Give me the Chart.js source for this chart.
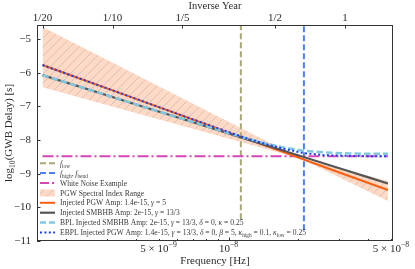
<!DOCTYPE html>
<html><head><meta charset="utf-8">
<script src="https://cdn.jsdelivr.net/npm/chart.js@4"></script>
<style>html,body{margin:0;padding:0;background:#fff;}#wrap{width:415px;height:269px;position:relative;}</style>
</head><body><div id="wrap"><canvas id="c" width="415" height="269"></canvas></div>
<script>
// ---- data ----
const freqs = [1.584e-9, 2.5e-9, 4e-9, 6.3e-9, 1e-8, 1.14e-8, 1.4e-8, 1.7e-8, 2.12e-8, 2.6e-8, 3.3e-8, 4e-8, 4.85e-8];
const pgwDelay = [-5.77, -6.265, -6.775, -7.268, -7.77, -7.913, -8.135, -8.345, -8.585, -8.808, -9.068, -9.275, -9.485];
const smbhbDelay = [-6.07, -6.499, -6.941, -7.368, -7.804, -7.927, -8.12, -8.302, -8.51, -8.703, -8.928, -9.108, -9.29];
const bplSmbhbDelay = [-6.07, -6.499, -6.941, -7.366, -7.79, -7.905, -8.08, -8.21, -8.32, -8.37, -8.40, -8.41, -8.41];
const ebplPgwDelay = [-5.77, -6.265, -6.775, -7.268, -7.76, -7.90, -8.09, -8.25, -8.39, -8.45, -8.47, -8.48, -8.48];
const whiteFreqs = [1.584e-9, 4.85e-8];
const whiteDelay = [-8.48, -8.48];
const bandFreqs = [1.584e-9, 2.04e-8, 4.85e-8];
const bandUpper = [-4.64, -8.55, -9.22];
const bandLower = [-6.43, -8.55, -9.81];
const fLow = 1.13e-8, fLowSpan = [-10.35, -4.58];
const fHigh = 2.11e-8, fHighSpan = [-10.68, -4.58];
const xRange = [1.5e-9, 5.1e-8];
const yRange = [-11, -4.58];
const yTicks = [-11, -10, -9, -8, -7, -6, -5];
const topTickFreqs = [1.5844e-9, 3.1688e-9, 6.3376e-9, 1.5844e-8, 3.1688e-8];
const topTickLabels = ['1/20', '1/10', '1/5', '1/2', '1'];
const bottomMinor = [2e-9,3e-9,4e-9,5e-9,6e-9,7e-9,8e-9,9e-9,2e-8,3e-8,4e-8,5e-8];
const bottomMajor = [1e-8];
const bottomLabelFreqs = [5e-9, 1e-8, 5e-8];
const bottomLabels = ['5 × 10^{−9}', '10^{−8}', '5 × 10^{−8}'];
const legendLabels = [
  '|f|_{low}',
  '|f|_{high}, |f|_{bend}',
  'White Noise Example',
  'PGW Spectral Index Range',
  'Injected PGW Amp: 1.4e-15, |γ| = 5',
  'Injected SMBHB Amp: 2e-15, |γ| = 13/3',
  'BPL Injected SMBHB Amp: 2e-15, |γ| = 13/3, |δ| = 0, |κ| = 0.25',
  'EBPL Injected PGW Amp: 1.4e-15, |γ| = 13/3, |δ| = 0, |β| = 5, |κ|_{high} = 0.1, |κ|_{low} = 0.25'
];

// ---- styles ----
const C = {olive:'#aba877', blue:'#4d80f4', magenta:'#d546b6', orange:'#ff5e0e', gray:'#555555', light:'#82c7e0', dot:'#1b3ff2', text:'#2a2a2a'};
const FONT = '"Liberation Serif", "DejaVu Serif", serif';
const canvas = document.getElementById('c');
const ctx0 = canvas.getContext('2d');
function makeHatch(){
  const s = 9, c = document.createElement('canvas'); c.width = c.height = s;
  const g = c.getContext('2d');
  g.fillStyle = '#fedac6'; g.fillRect(0,0,s,s);
  g.strokeStyle = 'rgba(175,160,155,0.55)'; g.lineWidth = 0.8;
  g.beginPath();
  g.moveTo(0,s); g.lineTo(s,0);
  g.moveTo(-2,2); g.lineTo(2,-2);
  g.moveTo(s-2,s+2); g.lineTo(s+2,s-2);
  g.stroke();
  return ctx0.createPattern(c,'repeat');
}
const hatch = makeHatch();
const pts = (xs, ys) => xs.map((x,i)=>({x:x, y:ys[i]}));
const line = (label, data, color, w, dash) => ({label, data, borderColor:color, borderWidth:w, borderDash:dash||[], pointRadius:0, fill:false, tension:0, borderCapStyle:'butt'});

// rich text helpers
function parseRich(s){
  const out=[]; let i=0, it=false;
  while(i<s.length){
    const c=s[i];
    if(c==='|'){it=!it;i++;continue;}
    if((c==='_'||c==='^')&&s[i+1]==='{'){const j=s.indexOf('}',i); out.push({t:s.slice(i+2,j),sub:c==='_',sup:c==='^',it:false}); i=j+1; continue;}
    let j=i; while(j<s.length && s[j]!=='|' && !((s[j]==='_'||s[j]==='^')&&s[j+1]==='{')) j++;
    out.push({t:s.slice(i,j), it:it}); i=j;
  }
  return out;
}
function richRun(ctx, s, x, y, size, draw){
  let cx = x;
  for(const p of parseRich(s)){
    const fs = (p.sub||p.sup) ? size*0.7 : size;
    ctx.font = (p.it?'italic ':'') + fs.toFixed(2) + 'px ' + FONT;
    const dy = p.sub ? size*0.28 : (p.sup ? -size*0.42 : 0);
    if(draw) ctx.fillText(p.t, cx, y+dy);
    cx += ctx.measureText(p.t).width;
  }
  return cx - x;
}

const decor = {
  id:'decor',
  afterDraw(chart){
    const ctx = chart.ctx, a = chart.chartArea;
    const sx = chart.scales.x, sy = chart.scales.y, st = chart.scales.x2;
    ctx.save();
    // frame
    ctx.strokeStyle = '#333'; ctx.lineWidth = 1;
    ctx.strokeRect(Math.round(a.left)+0.5, Math.round(a.top)+0.5, Math.round(a.right-a.left)-1, Math.round(a.bottom-a.top)-1);
    // ticks (inward)
    ctx.beginPath();
    for(const v of yTicks){ const y = Math.round(sy.getPixelForValue(v))+0.5; ctx.moveTo(a.left, y); ctx.lineTo(a.left+3.5, y); }
    for(const v of bottomMinor){ const x = Math.round(sx.getPixelForValue(v))+0.5; ctx.moveTo(x, a.bottom); ctx.lineTo(x, a.bottom-2); }
    for(const v of bottomMajor){ const x = Math.round(sx.getPixelForValue(v))+0.5; ctx.moveTo(x, a.bottom); ctx.lineTo(x, a.bottom-3.5); }
    for(const v of topTickFreqs){ const x = Math.round(st.getPixelForValue(v))+0.5; ctx.moveTo(x, a.top); ctx.lineTo(x, a.top+3.5); }
    ctx.stroke();
    // bottom tick labels with superscripts
    ctx.fillStyle = C.text; ctx.textBaseline = 'alphabetic'; ctx.textAlign = 'left';
    bottomLabelFreqs.forEach((v,i)=>{
      const w = richRun(ctx, bottomLabels[i], 0, 0, 11, false);
      const x = sx.getPixelForValue(v) - w/2;
      richRun(ctx, bottomLabels[i], x, 252, 11, true);
    });
    // axis titles
    const cx = (a.left+a.right)/2;
    let w = richRun(ctx, 'Frequency [Hz]', 0, 0, 11, false);
    richRun(ctx, 'Frequency [Hz]', cx-w/2, 264, 11, true);
    w = richRun(ctx, 'Inverse Year', 0, 0, 10.5, false);
    richRun(ctx, 'Inverse Year', cx-w/2, 9, 10.5, true);
    ctx.save();
    ctx.translate(12, (a.top+a.bottom)/2); ctx.rotate(-Math.PI/2);
    w = richRun(ctx, 'log_{10}(GWB Delay) [s]', 0, 0, 11, false);
    richRun(ctx, 'log_{10}(GWB Delay) [s]', -w/2, 0, 11, true);
    ctx.restore();
    // legend
    const rows = [163.3, 172.9, 183.0, 193.0, 202.8, 212.7, 222.6, 232.5];
    const hx0 = 40, hx1 = 55, tx = 60;
    const handles = [
      {c:C.olive, w:2, d:[6,3]}, {c:C.blue, w:2, d:[6,3]}, {c:C.magenta, w:2, d:[9,3,2,3]}, null,
      {c:C.orange, w:2, d:[]}, {c:C.gray, w:2.2, d:[]}, {c:C.light, w:2.5, d:[6,3]}, {c:C.dot, w:2, d:[2,2.4]}
    ];
    rows.forEach((y,i)=>{
      const h = handles[i];
      if(h){
        ctx.beginPath(); ctx.strokeStyle = h.c; ctx.lineWidth = h.w; ctx.setLineDash(h.d); ctx.lineCap='butt';
        ctx.moveTo(hx0, y); ctx.lineTo(hx1, y); ctx.stroke(); ctx.setLineDash([]);
      } else {
        ctx.fillStyle = hatch; ctx.fillRect(hx0, y-3.5, hx1-hx0, 7);
      }
      ctx.fillStyle = '#3a3a3a';
      richRun(ctx, legendLabels[i], tx, y+2.6, 7.6, true);
    });
    ctx.restore();
  }
};

new Chart(canvas, {
  type:'line',
  data:{datasets:[
    line('EBPL', pts(freqs, ebplPgwDelay), C.dot, 2, [2,2.4]),
    line('BPL', pts(freqs, bplSmbhbDelay), C.light, 2.5, [6.5,3]),
    line('SMBHB', pts(freqs, smbhbDelay), C.gray, 2.2),
    line('PGW', pts(freqs, pgwDelay), C.orange, 2),
    line('White', pts(whiteFreqs, whiteDelay), C.magenta, 2, [11,3,2,3]),
    line('fhigh', pts([fHigh,fHigh], fHighSpan), C.blue, 2, [6,3]),
    line('flow', pts([fLow,fLow], fLowSpan), C.olive, 2, [6,3]),
    {label:'bandU', data:pts(bandFreqs, bandUpper), borderWidth:0, pointRadius:0, tension:0, fill:'+1', backgroundColor:hatch},
    {label:'bandL', data:pts(bandFreqs, bandLower), borderWidth:0, pointRadius:0, tension:0, fill:false}
  ]},
  options:{
    responsive:false, animation:false, devicePixelRatio:1,
    layout:{padding:{left:0, right:22, top:0, bottom:0}},
    plugins:{legend:{display:false}, tooltip:{enabled:false}},
    scales:{
      x:{type:'logarithmic', position:'bottom', min:xRange[0], max:xRange[1],
         grid:{display:false, drawTicks:false}, border:{display:false}, ticks:{display:false},
         afterFit(s){ s.height = 28; }},
      x2:{type:'logarithmic', position:'top', min:xRange[0], max:xRange[1],
         grid:{display:false, drawTicks:false}, border:{display:false},
         afterBuildTicks(s){ s.ticks = topTickFreqs.map(v=>({value:v})); },
         ticks:{autoSkip:false, maxRotation:0, padding:0, color:C.text, font:{family:FONT, size:11},
                callback:(v,i)=>topTickLabels[i]},
         afterFit(s){ s.height = 25; }},
      y:{type:'linear', min:yRange[0], max:yRange[1],
         grid:{display:false, drawTicks:false}, border:{display:false},
         afterBuildTicks(s){ s.ticks = yTicks.map(v=>({value:v})); },
         ticks:{padding:6, color:C.text, font:{family:FONT, size:11},
                callback:(v)=> (v<0?'−':'') + Math.abs(v)},
         afterFit(s){ s.width = 37; }}
    }
  },
  plugins:[decor]
});
</script></body></html>
